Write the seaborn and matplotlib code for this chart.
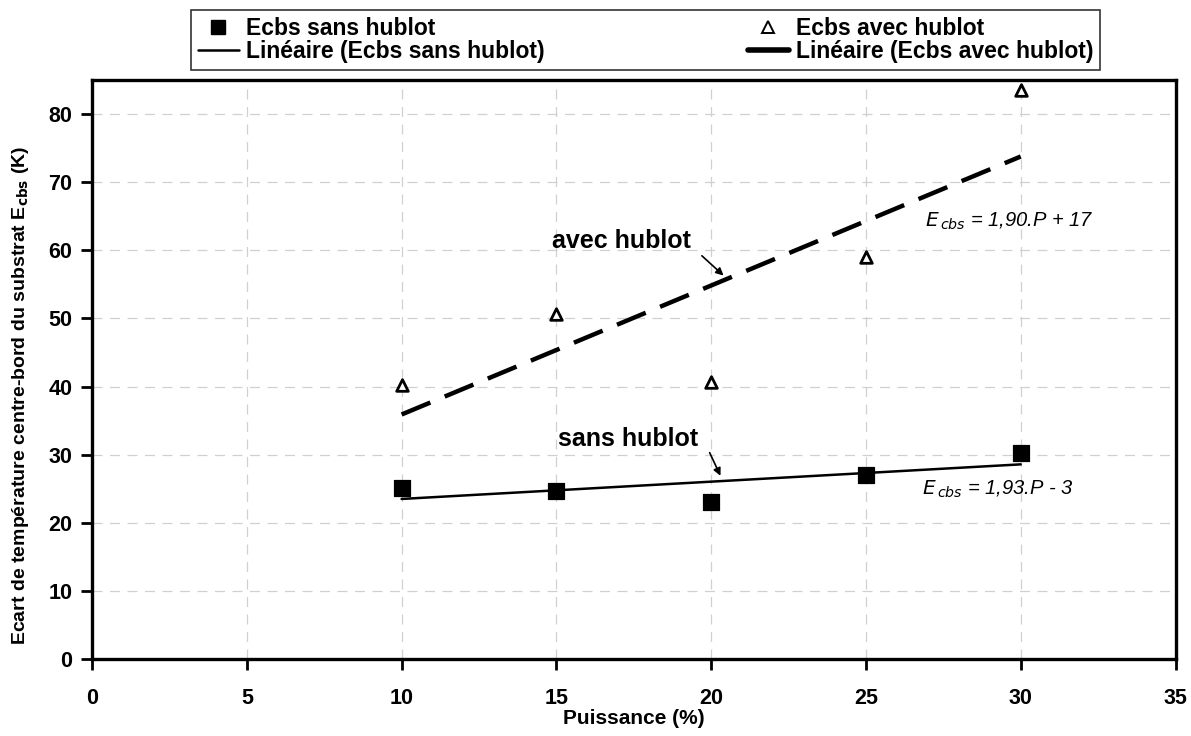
import matplotlib
matplotlib.use("Agg")
import matplotlib.pyplot as plt
from matplotlib.lines import Line2D
import seaborn as sns
import pandas as pd

# Data
puissance = [10, 15, 20, 25, 30]
ecbs_sans = [25.1, 24.7, 23.1, 27.0, 30.3]
ecbs_avec = [40.3, 50.7, 40.7, 59.0, 83.5]
x_ticks = [0, 5, 10, 15, 20, 25, 30, 35]
y_ticks = [0, 10, 20, 30, 40, 50, 60, 70, 80]

sns.set_style("white")
plt.rcParams['font.family'] = ['Liberation Sans', 'DejaVu Sans']
plt.rcParams['text.color'] = 'black'
plt.rcParams['axes.labelcolor'] = 'black'

df = pd.DataFrame({"P": puissance, "sans": ecbs_sans, "avec": ecbs_avec})

fig = plt.figure(figsize=(11.91, 7.36), dpi=100)
ax = fig.add_axes([0.0773, 0.1046, 0.9097, 0.7866])

# trend lines
sns.regplot(data=df, x="P", y="sans", ax=ax, scatter=False, ci=None,
            line_kws=dict(color="black", lw=1.8), truncate=True)
sns.regplot(data=df, x="P", y="avec", ax=ax, scatter=False, ci=None,
            line_kws=dict(color="black", lw=3.2, dashes=(7, 3.5)), truncate=True)

# points
sns.scatterplot(data=df, x="P", y="sans", ax=ax, marker="s", s=120,
                color="black", edgecolor="black", zorder=5, legend=False)
sns.scatterplot(data=df, x="P", y="avec", ax=ax, marker="^", s=70,
                facecolor="white", edgecolor="black", linewidth=2.0, zorder=5, legend=False)

ax.set_xlim(0, 35)
ax.set_ylim(0, 85)
ax.set_xticks(x_ticks)
ax.set_yticks(y_ticks)
ax.grid(True, ls=(0, (8, 6)), color="#d0d0d0", lw=0.9)
ax.set_axisbelow(True)
for s in ax.spines.values():
    s.set_color("black")
    s.set_linewidth(2.4)
ax.tick_params(axis="both", direction="out", length=8, width=2.0,
               labelsize=15.5, bottom=True, left=True, colors="black")
ax.tick_params(axis="x", pad=13)
ax.tick_params(axis="y", pad=6)
for lab in ax.get_xticklabels() + ax.get_yticklabels():
    lab.set_fontweight("bold")

ax.set_xlabel("Puissance (%)", fontsize=15, fontweight="bold", labelpad=0)
ax.set_ylabel("Ecart de température centre-bord du substrat E$_{\\mathbf{cbs}}$ (K)",
              fontsize=14, fontweight="bold")
ax.yaxis.set_label_coords(-0.056, 0.455)

# annotations
ax.text(17.1, 61.4, "avec hublot", fontsize=18, fontweight="bold", ha="center", va="center")
ax.annotate("", xy=(20.4, 56.3), xytext=(19.7, 59.2),
            arrowprops=dict(arrowstyle="-|>", color="black", lw=1.2,
                            mutation_scale=11, shrinkA=0, shrinkB=0))
ax.text(17.3, 32.3, "sans hublot", fontsize=18, fontweight="bold", ha="center", va="center")
ax.annotate("", xy=(20.3, 26.9), xytext=(19.95, 30.3),
            arrowprops=dict(arrowstyle="-|>", color="black", lw=1.2,
                            mutation_scale=11, shrinkA=0, shrinkB=0))
ax.text(26.9, 64.3, "$E_{\\,cbs}$ = 1,90.P + 17", fontsize=14.5, style="italic",
        ha="left", va="center")
ax.text(26.8, 24.9, "$E_{\\,cbs}$ = 1,93.P - 3", fontsize=14.5, style="italic",
        ha="left", va="center")

# legend
handles = [
    Line2D([], [], ls="none", marker="s", color="black", markersize=10),
    Line2D([], [], color="black", lw=1.8),
    Line2D([], [], ls="none", marker="^", markerfacecolor="white",
           markeredgecolor="black", markersize=8, markeredgewidth=1.4),
    Line2D([], [], color="black", lw=4.0),
]
labels = ["Ecbs sans hublot", "Linéaire (Ecbs sans hublot)",
          "Ecbs avec hublot", "Linéaire (Ecbs avec hublot)"]
leg = fig.legend(handles, labels, ncol=2, loc="center",
                 bbox_to_anchor=(191 / 1191, 1 - 72 / 736, 909 / 1191, 64 / 736),
                 mode="expand", frameon=True, fancybox=False, edgecolor="black",
                 prop=dict(size=16.5, weight="bold"), handlelength=1.8,
                 labelspacing=0.0, borderpad=0.3, handletextpad=0.3,
                 borderaxespad=0)
leg.get_frame().set_linewidth(1.2)

fig.savefig("out.png", dpi=100)
